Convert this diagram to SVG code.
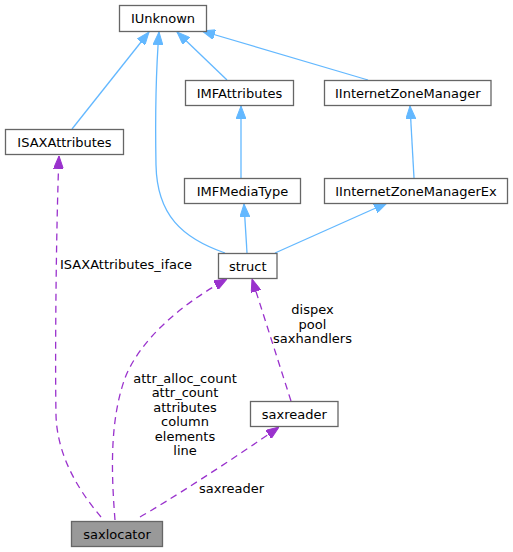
<svg xmlns="http://www.w3.org/2000/svg" width="513" height="552" viewBox="0 0 513 552">
<defs>
<style>
text{font-family:"DejaVu Sans","Liberation Sans",sans-serif;font-size:13px;fill:#000}
.node rect{fill:#fff;stroke:#666;stroke-width:1.3}
.node text{text-anchor:middle}
.inh{fill:none;stroke:#63b8ff;stroke-width:1.3}
.use{fill:none;stroke:#9a32cd;stroke-width:1.3;stroke-dasharray:7,5}
.lbl{text-anchor:middle}
</style>
<marker id="ab" markerUnits="userSpaceOnUse" viewBox="0 0 13 10" refX="13" refY="5" markerWidth="13" markerHeight="10" orient="auto"><path d="M0,0 L13,5 L0,10 z" fill="#63b8ff" stroke="#63b8ff"/></marker>
<marker id="ap" markerUnits="userSpaceOnUse" viewBox="0 0 13 10" refX="13" refY="5" markerWidth="13" markerHeight="10" orient="auto"><path d="M0,0 L13,5 L0,10 z" fill="#9a32cd" stroke="#9a32cd"/></marker>
</defs>
<rect width="513" height="552" fill="#fff"/>
<g id="edges">
<path class="inh" d="M72,129 L149,32" marker-end="url(#ab)"/>
<path class="inh" d="M225,253 C182,238 157,215 156,165 C155,110 156,70 159,32" marker-end="url(#ab)"/>
<path class="inh" d="M227,80 L177,32" marker-end="url(#ab)"/>
<path class="inh" d="M368,80 L202,31" marker-end="url(#ab)"/>
<path class="inh" d="M241,178 L241,106" marker-end="url(#ab)"/>
<path class="inh" d="M414,178 L410,106" marker-end="url(#ab)"/>
<path class="inh" d="M247,253 L244,204" marker-end="url(#ab)"/>
<path class="inh" d="M275,253 L387,203" marker-end="url(#ab)"/>
<path class="use" d="M101,517 C78,490 57,455 56,415 C55,360 56,230 59,156" marker-end="url(#ap)"/>
<path class="use" d="M115,520 C111,470 110,420 125,378 C140,340 180,305 227,279" marker-end="url(#ap)"/>
<path class="use" d="M291,401 L252,279" marker-end="url(#ap)"/>
<path class="use" d="M140,517 C165,503 235,458 279,427" marker-end="url(#ap)"/>
<text x="60" y="269">ISAXAttributes_iface</text>
<text class="lbl" x="185" y="382.5">attr_alloc_count</text>
<text class="lbl" x="185" y="397">attr_count</text>
<text class="lbl" x="185" y="411.5">attributes</text>
<text class="lbl" x="185" y="426">column</text>
<text class="lbl" x="185" y="440.5">elements</text>
<text class="lbl" x="185" y="455">line</text>
<text class="lbl" x="312.5" y="314">dispex</text>
<text class="lbl" x="312.5" y="328.5">pool</text>
<text class="lbl" x="312.5" y="343">saxhandlers</text>
<text class="lbl" x="231.5" y="493">saxreader</text>
</g>
<g id="IUnknown" class="node"><rect x="119.5" y="5.5" width="87" height="26"/><text x="163" y="23">IUnknown</text></g>
<g id="IMFAttributes" class="node"><rect x="185.5" y="80.5" width="108" height="25"/><text x="239.5" y="98">IMFAttributes</text></g>
<g id="IInternetZoneManager" class="node"><rect x="324.5" y="80.5" width="166.5" height="25"/><text x="407.75" y="98">IInternetZoneManager</text></g>
<g id="ISAXAttributes" class="node"><rect x="5.5" y="129.5" width="118" height="25"/><text x="64.5" y="147">ISAXAttributes</text></g>
<g id="IMFMediaType" class="node"><rect x="184.5" y="178.5" width="116" height="25"/><text x="242.5" y="196">IMFMediaType</text></g>
<g id="IInternetZoneManagerEx" class="node"><rect x="324.5" y="178.5" width="183" height="25"/><text x="416" y="196">IInternetZoneManagerEx</text></g>
<g id="struct" class="node"><rect x="218.5" y="253.5" width="58.5" height="25"/><text x="247.75" y="271">struct</text></g>
<g id="saxreader" class="node"><rect x="250.5" y="401.5" width="87.5" height="25"/><text x="294.25" y="419">saxreader</text></g>
<g id="saxlocator" class="node"><rect x="71.5" y="521.5" width="91" height="25" style="fill:#999"/><text x="117" y="539">saxlocator</text></g>
</svg>
